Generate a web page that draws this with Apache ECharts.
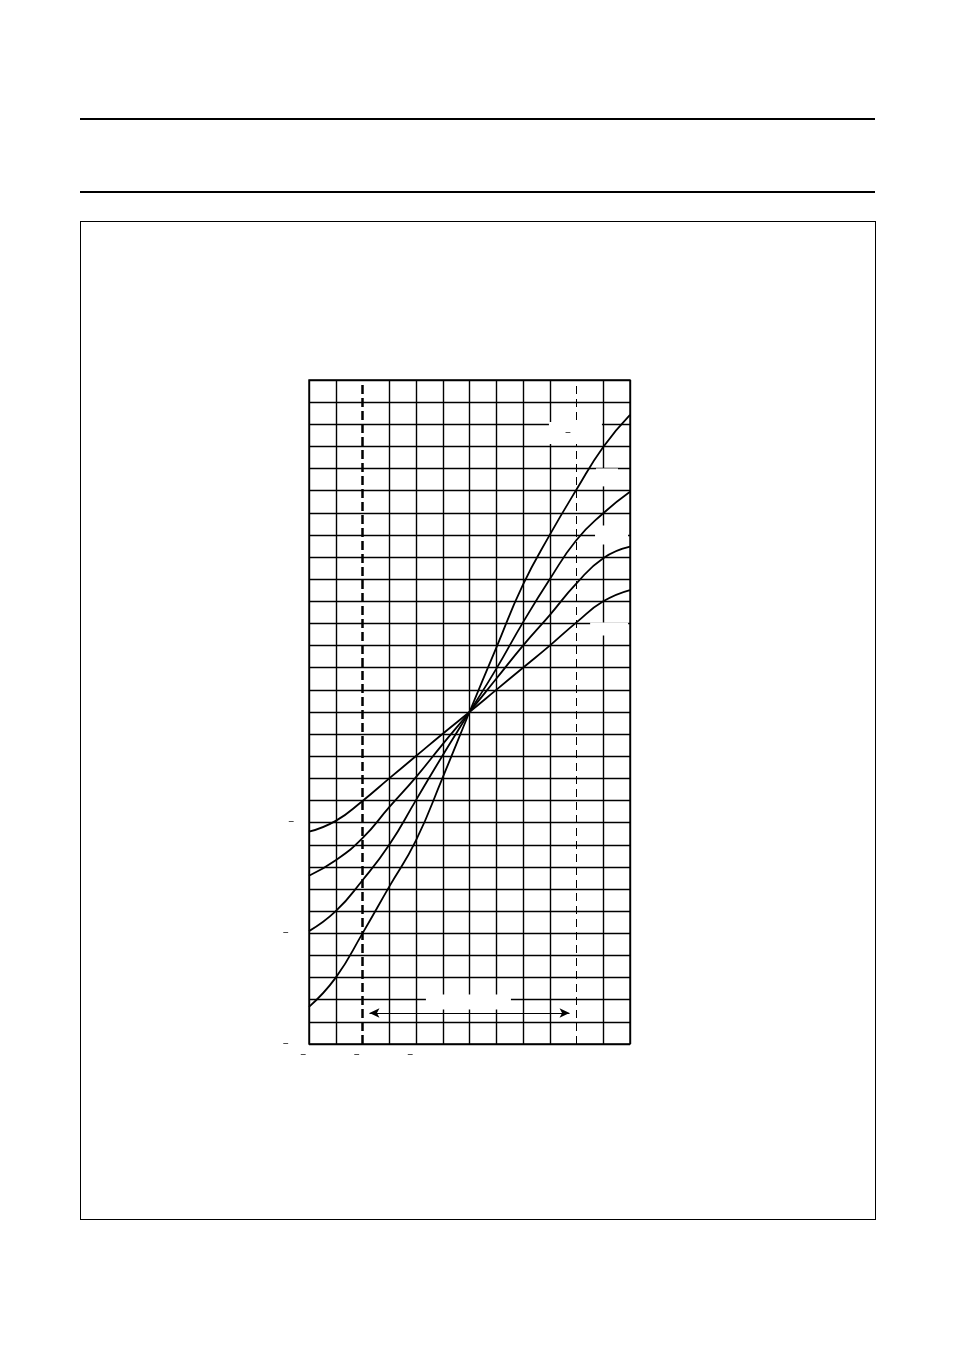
<!DOCTYPE html>
<html lang="en">
<head>
    <meta charset="UTF-8">
    <title>Chart</title>
    <script type="text/javascript" src="https://cdn.jsdelivr.net/npm/echarts@6/dist/echarts.min.js"></script>
    <style>
        body { margin: 0; background: #fff; }
        #page { position: relative; width: 954px; height: 1351px; }
        .rule { position: absolute; left: 80px; width: 795px; height: 2px; background: #000; }
        #frame { position: absolute; left: 80px; top: 221px; width: 794px; height: 997px; border: 1px solid #000; }
        #main { position: absolute; left: 0; top: 0; width: 954px; height: 1351px; }
    </style>
</head>
<body>
<div id="page">
    <div class="rule" style="top:118px"></div>
    <div class="rule" style="top:191px"></div>
    <div id="frame"></div>
    <div id="main"></div>
</div>

<script type="text/javascript">
    // x positions of the read points (one per grid column)
    var xValues = [-60, -50, -40, -30, -20, -10, 0, 10, 20, 30, 40, 50, 60];
    // four curves, steepest first
    var curveA = [-13.32, -12.0, -10.0, -7.89, -5.8, -2.95, 0, 2.9, 5.75, 8.0, 10.05, 11.97, 13.42];
    var curveB = [-9.9, -9.0, -7.6, -6.0, -3.98, -1.95, 0, 1.95, 4.05, 6.0, 7.77, 8.98, 9.95];
    var curveC = [-7.4, -6.7, -5.7, -4.3, -2.94, -1.45, 0, 1.5, 3.0, 4.38, 5.81, 6.95, 7.47];
    var curveD = [-5.41, -4.92, -4.02, -3.0, -1.99, -0.98, 0, 1.0, 2.0, 3.0, 4.05, 5.0, 5.51];
    // range limits (dashed lines) and range arrow
    var rangeLimits = [-40, 40];
    var arrowLevel = -13.6;

    var font = 'Liberation Sans, Arial, sans-serif';

    function pairs(ys) {
        var out = [];
        for (var i = 0; i < xValues.length; i++) {
            out.push([xValues[i], ys[i]]);
        }
        return out;
    }

    // only the minus sign of a label shows, the digits stay white
    function tickText(v) {
        if (v < 0) return '{m|\u2212}{w|' + (-v) + '}';
        return '{w|' + v + '}';
    }

    var richText = {
        m: { color: '#000', fontSize: 10, fontFamily: font },
        w: { color: '#fff', fontSize: 10, fontFamily: font }
    };

    // vertical grid: no solid line where the dashed limits sit
    var vColors = [];
    for (var k = 0; k < xValues.length; k++) {
        vColors.push(rangeLimits.indexOf(xValues[k]) >= 0 ? 'rgba(0,0,0,0)' : '#000');
    }

    function curve(name, ys) {
        return {
            name: name,
            type: 'line',
            data: pairs(ys),
            smooth: 0.5,
            symbol: 'none',
            lineStyle: { color: '#000', width: 1.8 },
            z: 4
        };
    }

    function box(coord, w, h, text) {
        return {
            coord: coord,
            label: {
                show: true,
                position: 'inside',
                width: w,
                height: h,
                lineHeight: h,
                align: 'center',
                verticalAlign: 'middle',
                backgroundColor: '#fff',
                color: '#fff',
                fontSize: 10,
                fontFamily: font,
                formatter: text,
                rich: richText
            }
        };
    }

    var myChart = echarts.init(document.getElementById('main'));
    var option = {
        animation: false,
        backgroundColor: 'rgba(0,0,0,0)',
        grid: {
            left: 309, top: 380, width: 321, height: 664,
            show: true, borderColor: '#000', borderWidth: 1.4,
            backgroundColor: 'rgba(0,0,0,0)'
        },
        xAxis: {
            type: 'value',
            min: -60, max: 60, interval: 10,
            axisLine: { show: false },
            axisTick: { show: false },
            splitLine: { show: true, lineStyle: { color: vColors, width: 1.4 } },
            axisLabel: {
                margin: 6,
                fontSize: 10,
                fontFamily: font,
                formatter: function (v) { return v % 20 === 0 ? tickText(v) : ''; },
                rich: richText
            }
        },
        yAxis: {
            type: 'value',
            min: -15, max: 15, interval: 1,
            axisLine: { show: false },
            axisTick: { show: false },
            splitLine: { show: true, lineStyle: { color: '#000', width: 1.4 } },
            axisLabel: {
                margin: 9,
                fontSize: 10,
                fontFamily: font,
                formatter: function (v) { return v % 5 === 0 ? tickText(v) : ''; },
                rich: richText
            }
        },
        series: [
            curve('A', curveA),
            curve('B', curveB),
            curve('C', curveC),
            curve('D', curveD),
            {
                // white label boxes inside the grid
                name: 'labels',
                type: 'line',
                data: [],
                z: 3,
                markPoint: {
                    symbol: 'rect',
                    symbolSize: 1,
                    itemStyle: { color: 'rgba(0,0,0,0)' },
                    data: [
                        box([39.6, 12.6], 53, 22, '{w|k = }{m|\u2212}{w|0.25 %}'),
                        box([51.4, 10.6], 22, 18, '(1)'),
                        box([53.1, 8.0], 33, 19, '(2)'),
                        box([52.2, 3.75], 38, 13, '(3)'),
                        box([-0.4, -13.1], 85, 15, 'range')
                    ]
                }
            },
            {
                // dashed range limits and range arrow
                name: 'range',
                type: 'line',
                data: [],
                z: 6,
                markLine: {
                    silent: true,
                    symbol: 'none',
                    label: { show: false },
                    data: [
                        { xAxis: rangeLimits[0], lineStyle: { color: '#000', width: 2.5, type: [9, 4] } },
                        { xAxis: rangeLimits[1], lineStyle: { color: '#000', width: 1, type: [8, 5] } },
                        [
                            { coord: [rangeLimits[0] + 2.6, arrowLevel], symbol: 'arrow' },
                            { coord: [rangeLimits[1] - 2.6, arrowLevel], symbol: 'arrow' }
                        ]
                    ],
                    symbolSize: [7, 10],
                    lineStyle: { color: '#000', width: 1, type: 'solid' }
                }
            }
        ]
    };
    myChart.setOption(option);
</script>
</body>
</html>
